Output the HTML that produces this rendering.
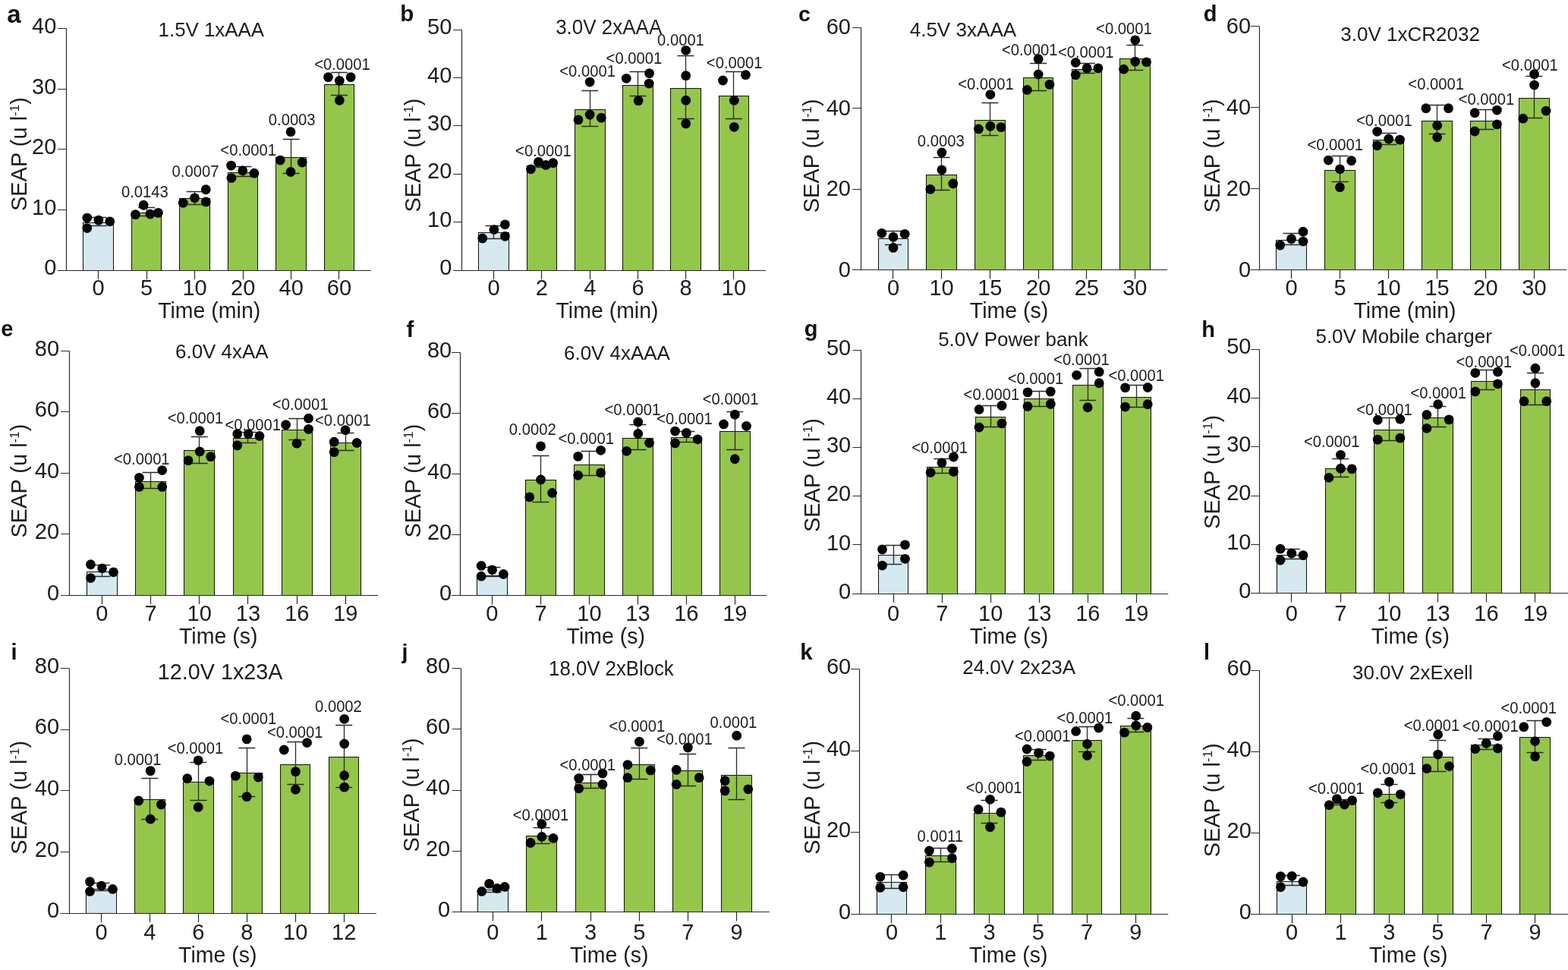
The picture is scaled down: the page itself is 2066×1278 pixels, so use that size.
<!DOCTYPE html>
<html><head><meta charset="utf-8"><title>SEAP bar charts</title>
<style>
html,body{margin:0;padding:0;background:#fff;}
body{width:2066px;height:1278px;overflow:hidden;}
svg{display:block;}
text{font-family:'Liberation Sans', Arial, Helvetica, sans-serif;fill:#1c1c1c;}
.tk{font-size:29px;}
.ti{}
.pv{font-size:21.5px;}
.xl{font-size:30px;}
.pl{font-weight:bold;fill:#111;}
</style></head>
<body>
<svg width="2066" height="1278" viewBox="0 0 2066 1278">
<rect width="2066" height="1278" fill="#fff"/>
<g id="pa">
<rect x="109.5" y="293.5" width="40" height="63" fill="#d6e9f0" stroke="#161616" stroke-width="1.05"/>
<rect x="173.5" y="280.5" width="39" height="76" fill="#94c64b" stroke="#161616" stroke-width="1.05"/>
<rect x="236.5" y="261.5" width="40" height="95" fill="#94c64b" stroke="#161616" stroke-width="1.05"/>
<rect x="300.5" y="227.5" width="39" height="129" fill="#94c64b" stroke="#161616" stroke-width="1.05"/>
<rect x="363.5" y="207.5" width="40" height="149" fill="#94c64b" stroke="#161616" stroke-width="1.05"/>
<rect x="427.5" y="111.5" width="39" height="245" fill="#94c64b" stroke="#161616" stroke-width="1.05"/>
<path d="M87.5 37.5V356.5M76.1 356.5H489.04" stroke="#2a2a2a" stroke-width="1.2" fill="none"/>
<path d="M76.1 356.5H87.4M76.1 276.5H87.4M76.1 196.5H87.4M76.1 117.5H87.4M76.1 37.5H87.4M129.5 356.09V367.89M193.5 356.09V367.89M256.5 356.09V367.89M320.5 356.09V367.89M383.5 356.09V367.89M446.5 356.09V367.89" stroke="#2a2a2a" stroke-width="1.2" fill="none"/>
<path d="M129.5 286.5V297.5M118.58 286.5H140.58M118.58 297.5H140.58M193.5 273.5V284.5M182.19 273.5H204.19M182.19 284.5H204.19M256.5 252.5V269.5M245.63 252.5H267.63M245.63 269.5H267.63M320.5 219.5V232.5M309.25 219.5H331.25M309.25 232.5H331.25M383.5 183.5V228.5M372.69 183.5H394.69M372.69 228.5H394.69M446.5 95.5V125.5M435.96 95.5H457.96M435.96 125.5H457.96" stroke="#2a2a2a" stroke-width="1.3" fill="none"/>
<circle cx="114.77" cy="287.09" r="6.4" fill="#050505"/>
<circle cx="129.92" cy="290.12" r="6.4" fill="#050505"/>
<circle cx="144.72" cy="291.81" r="6.4" fill="#050505"/>
<circle cx="114.77" cy="300.56" r="6.4" fill="#050505"/>
<circle cx="189.15" cy="270.27" r="6.4" fill="#050505"/>
<circle cx="178.38" cy="282.72" r="6.4" fill="#050505"/>
<circle cx="197.9" cy="282.05" r="6.4" fill="#050505"/>
<circle cx="208.34" cy="280.36" r="6.4" fill="#050505"/>
<circle cx="271.28" cy="249.73" r="6.4" fill="#050505"/>
<circle cx="256.47" cy="260.84" r="6.4" fill="#050505"/>
<circle cx="241.32" cy="267.24" r="6.4" fill="#050505"/>
<circle cx="271.28" cy="265.89" r="6.4" fill="#050505"/>
<circle cx="304.6" cy="218.1" r="6.4" fill="#050505"/>
<circle cx="319.74" cy="224.83" r="6.4" fill="#050505"/>
<circle cx="334.89" cy="228.19" r="6.4" fill="#050505"/>
<circle cx="304.93" cy="234.59" r="6.4" fill="#050505"/>
<circle cx="383.02" cy="173.67" r="6.4" fill="#050505"/>
<circle cx="369.22" cy="211.03" r="6.4" fill="#050505"/>
<circle cx="398.16" cy="214.06" r="6.4" fill="#050505"/>
<circle cx="383.02" cy="226.51" r="6.4" fill="#050505"/>
<circle cx="432.49" cy="101.64" r="6.4" fill="#050505"/>
<circle cx="462.11" cy="101.64" r="6.4" fill="#050505"/>
<circle cx="447.3" cy="106.36" r="6.4" fill="#050505"/>
<circle cx="447.3" cy="132.27" r="6.4" fill="#050505"/>
<text x="74.3" y="362.49" class="tk" text-anchor="end">0</text>
<text x="74.3" y="282.89" class="tk" text-anchor="end">10</text>
<text x="74.3" y="203.29" class="tk" text-anchor="end">20</text>
<text x="74.3" y="123.69" class="tk" text-anchor="end">30</text>
<text x="74.3" y="44.1" class="tk" text-anchor="end">40</text>
<text x="129.58" y="389.2" class="tk" text-anchor="middle">0</text>
<text x="193.19" y="389.2" class="tk" text-anchor="middle">5</text>
<text x="256.63" y="389.2" class="tk" text-anchor="middle">10</text>
<text x="320.25" y="389.2" class="tk" text-anchor="middle">20</text>
<text x="383.69" y="389.2" class="tk" text-anchor="middle">40</text>
<text x="446.96" y="389.2" class="tk" text-anchor="middle">60</text>
<text transform="translate(275.7 419.4) scale(0.95 1)" class="xl" text-anchor="middle">Time (min)</text>
<text transform="translate(208.56 47.6) scale(0.973 1)" font-size="26.6" class="ti">1.5V 1xAAA</text>
<text transform="translate(190.83 259.69) scale(0.94 1)" class="pv" text-anchor="middle">0.0143</text>
<text transform="translate(257.48 233.1) scale(0.94 1)" class="pv" text-anchor="middle">0.0007</text>
<text transform="translate(327.15 205.16) scale(0.94 1)" class="pv" text-anchor="middle">&lt;0.0001</text>
<text transform="translate(384.7 165.45) scale(0.94 1)" class="pv" text-anchor="middle">0.0003</text>
<text transform="translate(451 92.41) scale(0.94 1)" class="pv" text-anchor="middle">&lt;0.0001</text>
<text transform="translate(34.9 203.1) rotate(-90)" x="0" y="0" class="tk" text-anchor="middle">SEAP (u l<tspan font-size="17" dy="-10">-1</tspan><tspan dy="10">)</tspan></text>
<text x="9.2" y="29.5" class="pl" font-size="33">a</text>
</g>
<g id="pb">
<rect x="630.5" y="306.5" width="40" height="50" fill="#d6e9f0" stroke="#161616" stroke-width="1.05"/>
<rect x="694.5" y="218.5" width="39" height="138" fill="#94c64b" stroke="#161616" stroke-width="1.05"/>
<rect x="757.5" y="144.5" width="40" height="212" fill="#94c64b" stroke="#161616" stroke-width="1.05"/>
<rect x="820.5" y="112.5" width="40" height="244" fill="#94c64b" stroke="#161616" stroke-width="1.05"/>
<rect x="883.5" y="116.5" width="40" height="240" fill="#94c64b" stroke="#161616" stroke-width="1.05"/>
<rect x="947.5" y="126.5" width="39" height="230" fill="#94c64b" stroke="#161616" stroke-width="1.05"/>
<path d="M608.5 39.5V356.5M597.4 356.5H1009.04" stroke="#2a2a2a" stroke-width="1.2" fill="none"/>
<path d="M597.4 356.5H608.7M597.4 292.5H608.7M597.4 229.5H608.7M597.4 165.5H608.7M597.4 102.5H608.7M597.4 39.5H608.7M650.5 356.09V367.89M713.5 356.09V367.89M777.5 356.09V367.89M840.5 356.09V367.89M903.5 356.09V367.89M966.5 356.09V367.89" stroke="#2a2a2a" stroke-width="1.2" fill="none"/>
<path d="M650.5 297.5V314.5M639.59 297.5H661.59M639.59 314.5H661.59M713.5 215.5V220.5M702.86 215.5H724.86M702.86 220.5H724.86M777.5 119.5V166.5M766.31 119.5H788.31M766.31 166.5H788.31M840.5 94.5V126.5M829.58 94.5H851.58M829.58 126.5H851.58M903.5 73.5V156.5M892.52 73.5H914.52M892.52 156.5H914.52M966.5 94.5V156.5M955.96 94.5H977.96M955.96 156.5H977.96" stroke="#2a2a2a" stroke-width="1.3" fill="none"/>
<circle cx="635.78" cy="314.02" r="6.4" fill="#050505"/>
<circle cx="650.93" cy="302.58" r="6.4" fill="#050505"/>
<circle cx="665.4" cy="295.84" r="6.4" fill="#050505"/>
<circle cx="665.4" cy="311.33" r="6.4" fill="#050505"/>
<circle cx="699.39" cy="222.81" r="6.4" fill="#050505"/>
<circle cx="709.49" cy="213.39" r="6.4" fill="#050505"/>
<circle cx="719.25" cy="217.42" r="6.4" fill="#050505"/>
<circle cx="728.67" cy="214.73" r="6.4" fill="#050505"/>
<circle cx="777.14" cy="108.04" r="6.4" fill="#050505"/>
<circle cx="777.14" cy="151.12" r="6.4" fill="#050505"/>
<circle cx="761.99" cy="157.85" r="6.4" fill="#050505"/>
<circle cx="792.28" cy="155.16" r="6.4" fill="#050505"/>
<circle cx="825.27" cy="103.33" r="6.4" fill="#050505"/>
<circle cx="855.56" cy="96.6" r="6.4" fill="#050505"/>
<circle cx="855.22" cy="110.06" r="6.4" fill="#050505"/>
<circle cx="841.09" cy="132.61" r="6.4" fill="#050505"/>
<circle cx="903.69" cy="66.3" r="6.4" fill="#050505"/>
<circle cx="903.69" cy="99.62" r="6.4" fill="#050505"/>
<circle cx="903.69" cy="132.27" r="6.4" fill="#050505"/>
<circle cx="903.69" cy="162.9" r="6.4" fill="#050505"/>
<circle cx="952.49" cy="106.02" r="6.4" fill="#050505"/>
<circle cx="982.45" cy="98.61" r="6.4" fill="#050505"/>
<circle cx="967.3" cy="132.27" r="6.4" fill="#050505"/>
<circle cx="967.3" cy="167.28" r="6.4" fill="#050505"/>
<text x="595.3" y="362.29" class="tk" text-anchor="end">0</text>
<text x="595.3" y="298.88" class="tk" text-anchor="end">10</text>
<text x="595.3" y="235.47" class="tk" text-anchor="end">20</text>
<text x="595.3" y="172.06" class="tk" text-anchor="end">30</text>
<text x="595.3" y="108.65" class="tk" text-anchor="end">40</text>
<text x="595.3" y="45.24" class="tk" text-anchor="end">50</text>
<text x="650.59" y="389.2" class="tk" text-anchor="middle">0</text>
<text x="713.86" y="389.2" class="tk" text-anchor="middle">2</text>
<text x="777.31" y="389.2" class="tk" text-anchor="middle">4</text>
<text x="840.58" y="389.2" class="tk" text-anchor="middle">6</text>
<text x="903.52" y="389.2" class="tk" text-anchor="middle">8</text>
<text x="966.96" y="389.2" class="tk" text-anchor="middle">10</text>
<text transform="translate(800 419.4) scale(0.95 1)" class="xl" text-anchor="middle">Time (min)</text>
<text transform="translate(732.16 44.9) scale(0.966 1)" font-size="26.9" class="ti">3.0V 2xAAA</text>
<text transform="translate(715.88 206.17) scale(0.94 1)" class="pv" text-anchor="middle">&lt;0.0001</text>
<text transform="translate(774.11 100.83) scale(0.94 1)" class="pv" text-anchor="middle">&lt;0.0001</text>
<text transform="translate(835.37 84) scale(0.94 1)" class="pv" text-anchor="middle">&lt;0.0001</text>
<text transform="translate(896.96 60.44) scale(0.94 1)" class="pv" text-anchor="middle">0.0001</text>
<text transform="translate(967.64 89.72) scale(0.94 1)" class="pv" text-anchor="middle">&lt;0.0001</text>
<text transform="translate(553.7 204.5) rotate(-90)" x="0" y="0" class="tk" text-anchor="middle">SEAP (u l<tspan font-size="17" dy="-10">-1</tspan><tspan dy="10">)</tspan></text>
<text x="527.2" y="28.4" class="pl" font-size="29.5">b</text>
</g>
<g id="pc">
<rect x="1157.5" y="314.5" width="39" height="41" fill="#d6e9f0" stroke="#161616" stroke-width="1.05"/>
<rect x="1220.5" y="230.5" width="40" height="125" fill="#94c64b" stroke="#161616" stroke-width="1.05"/>
<rect x="1284.5" y="158.5" width="40" height="197" fill="#94c64b" stroke="#161616" stroke-width="1.05"/>
<rect x="1348.5" y="102.5" width="39" height="253" fill="#94c64b" stroke="#161616" stroke-width="1.05"/>
<rect x="1412.5" y="91.5" width="39" height="264" fill="#94c64b" stroke="#161616" stroke-width="1.05"/>
<rect x="1475.5" y="77.5" width="40" height="278" fill="#94c64b" stroke="#161616" stroke-width="1.05"/>
<path d="M1134.5 36.5V355.5M1123.3 355.5H1538.12" stroke="#2a2a2a" stroke-width="1.2" fill="none"/>
<path d="M1123.3 355.5H1134.6M1123.3 249.5H1134.6M1123.3 142.5H1134.6M1123.3 36.5H1134.6M1176.5 355.75V367.55M1240.5 355.75V367.55M1304.5 355.75V367.55M1368.5 355.75V367.55M1431.5 355.75V367.55M1495.5 355.75V367.55" stroke="#2a2a2a" stroke-width="1.2" fill="none"/>
<path d="M1176.5 304.5V322.5M1165.98 304.5H1187.98M1165.98 322.5H1187.98M1240.5 207.5V250.5M1229.6 207.5H1251.6M1229.6 250.5H1251.6M1304.5 135.5V178.5M1293.38 135.5H1315.38M1293.38 178.5H1315.38M1368.5 83.5V119.5M1357.16 83.5H1379.16M1357.16 119.5H1379.16M1431.5 83.5V96.5M1420.77 83.5H1442.77M1420.77 96.5H1442.77M1495.5 59.5V92.5M1484.38 59.5H1506.38M1484.38 92.5H1506.38" stroke="#2a2a2a" stroke-width="1.3" fill="none"/>
<circle cx="1161.84" cy="307.29" r="6.4" fill="#050505"/>
<circle cx="1176.98" cy="312.34" r="6.4" fill="#050505"/>
<circle cx="1192.13" cy="308.3" r="6.4" fill="#050505"/>
<circle cx="1176.98" cy="326.47" r="6.4" fill="#050505"/>
<circle cx="1240.93" cy="200.93" r="6.4" fill="#050505"/>
<circle cx="1240.93" cy="223.82" r="6.4" fill="#050505"/>
<circle cx="1255.74" cy="241.99" r="6.4" fill="#050505"/>
<circle cx="1225.79" cy="249.4" r="6.4" fill="#050505"/>
<circle cx="1304.88" cy="124.53" r="6.4" fill="#050505"/>
<circle cx="1289.4" cy="169.97" r="6.4" fill="#050505"/>
<circle cx="1304.88" cy="166.27" r="6.4" fill="#050505"/>
<circle cx="1319.02" cy="167.61" r="6.4" fill="#050505"/>
<circle cx="1368.16" cy="77.75" r="6.4" fill="#050505"/>
<circle cx="1368.16" cy="97.94" r="6.4" fill="#050505"/>
<circle cx="1353.35" cy="118.47" r="6.4" fill="#050505"/>
<circle cx="1382.96" cy="111.4" r="6.4" fill="#050505"/>
<circle cx="1417.29" cy="82.46" r="6.4" fill="#050505"/>
<circle cx="1432.1" cy="89.86" r="6.4" fill="#050505"/>
<circle cx="1446.91" cy="89.86" r="6.4" fill="#050505"/>
<circle cx="1417.29" cy="98.61" r="6.4" fill="#050505"/>
<circle cx="1495.72" cy="52.84" r="6.4" fill="#050505"/>
<circle cx="1495.72" cy="81.11" r="6.4" fill="#050505"/>
<circle cx="1510.52" cy="81.79" r="6.4" fill="#050505"/>
<circle cx="1480.57" cy="91.21" r="6.4" fill="#050505"/>
<text x="1120.9" y="364.95" class="tk" text-anchor="end">0</text>
<text x="1120.9" y="258.37" class="tk" text-anchor="end">20</text>
<text x="1120.9" y="151.79" class="tk" text-anchor="end">40</text>
<text x="1120.9" y="45.21" class="tk" text-anchor="end">60</text>
<text x="1176.98" y="389.2" class="tk" text-anchor="middle">0</text>
<text x="1240.6" y="389.2" class="tk" text-anchor="middle">10</text>
<text x="1304.38" y="389.2" class="tk" text-anchor="middle">15</text>
<text x="1368.16" y="389.2" class="tk" text-anchor="middle">20</text>
<text x="1431.77" y="389.2" class="tk" text-anchor="middle">25</text>
<text x="1495.38" y="389.2" class="tk" text-anchor="middle">30</text>
<text transform="translate(1329.5 419.4) scale(0.95 1)" class="xl" text-anchor="middle">Time (s)</text>
<text transform="translate(1198.65 48) scale(0.991 1)" font-size="26.3" class="ti">4.5V 3xAAA</text>
<text transform="translate(1239.75 193.38) scale(0.94 1)" class="pv" text-anchor="middle">0.0003</text>
<text transform="translate(1298.99 118.33) scale(0.94 1)" class="pv" text-anchor="middle">&lt;0.0001</text>
<text transform="translate(1356.71 72.89) scale(0.94 1)" class="pv" text-anchor="middle">&lt;0.0001</text>
<text transform="translate(1430.76 75.58) scale(0.94 1)" class="pv" text-anchor="middle">&lt;0.0001</text>
<text transform="translate(1480.91 45.29) scale(0.94 1)" class="pv" text-anchor="middle">&lt;0.0001</text>
<text transform="translate(1078.7 205.3) rotate(-90)" x="0" y="0" class="tk" text-anchor="middle">SEAP (u l<tspan font-size="17" dy="-10">-1</tspan><tspan dy="10">)</tspan></text>
<text x="1052" y="28.4" class="pl" font-size="28.5">c</text>
</g>
<g id="pd">
<rect x="1681.5" y="316.5" width="40" height="39" fill="#d6e9f0" stroke="#161616" stroke-width="1.05"/>
<rect x="1745.5" y="224.5" width="40" height="131" fill="#94c64b" stroke="#161616" stroke-width="1.05"/>
<rect x="1809.5" y="184.5" width="40" height="171" fill="#94c64b" stroke="#161616" stroke-width="1.05"/>
<rect x="1873.5" y="159.5" width="40" height="196" fill="#94c64b" stroke="#161616" stroke-width="1.05"/>
<rect x="1937.5" y="159.5" width="40" height="196" fill="#94c64b" stroke="#161616" stroke-width="1.05"/>
<rect x="2001.5" y="129.5" width="40" height="226" fill="#94c64b" stroke="#161616" stroke-width="1.05"/>
<path d="M1659.5 34.5V355.5M1647.7 355.5H2064.32" stroke="#2a2a2a" stroke-width="1.2" fill="none"/>
<path d="M1647.7 355.5H1659M1647.7 248.5H1659M1647.7 141.5H1659M1647.7 34.5H1659M1701.5 355.42V367.22M1765.5 355.42V367.22M1829.5 355.42V367.22M1893.5 355.42V367.22M1957.5 355.42V367.22M2021.5 355.42V367.22" stroke="#2a2a2a" stroke-width="1.2" fill="none"/>
<path d="M1701.5 307.5V322.5M1690.5 307.5H1712.5M1690.5 322.5H1712.5M1765.5 205.5V239.5M1754.61 205.5H1776.61M1754.61 239.5H1776.61M1829.5 175.5V190.5M1818.39 175.5H1840.39M1818.39 190.5H1840.39M1893.5 138.5V176.5M1882.51 138.5H1904.51M1882.51 176.5H1904.51M1957.5 144.5V170.5M1946.46 144.5H1968.46M1946.46 170.5H1968.46M2021.5 100.5V155.5M2010.4 100.5H2032.4M2010.4 155.5H2032.4" stroke="#2a2a2a" stroke-width="1.3" fill="none"/>
<circle cx="1686.69" cy="323.11" r="6.4" fill="#050505"/>
<circle cx="1701.5" cy="314.69" r="6.4" fill="#050505"/>
<circle cx="1716.98" cy="305.27" r="6.4" fill="#050505"/>
<circle cx="1716.98" cy="318.06" r="6.4" fill="#050505"/>
<circle cx="1750.3" cy="211.03" r="6.4" fill="#050505"/>
<circle cx="1780.59" cy="211.7" r="6.4" fill="#050505"/>
<circle cx="1765.44" cy="222.81" r="6.4" fill="#050505"/>
<circle cx="1765.44" cy="246.71" r="6.4" fill="#050505"/>
<circle cx="1814.58" cy="173.33" r="6.4" fill="#050505"/>
<circle cx="1829.73" cy="183.09" r="6.4" fill="#050505"/>
<circle cx="1844.54" cy="184.1" r="6.4" fill="#050505"/>
<circle cx="1814.58" cy="191.84" r="6.4" fill="#050505"/>
<circle cx="1878.87" cy="142.71" r="6.4" fill="#050505"/>
<circle cx="1908.49" cy="142.71" r="6.4" fill="#050505"/>
<circle cx="1893.68" cy="165.26" r="6.4" fill="#050505"/>
<circle cx="1893.68" cy="180.74" r="6.4" fill="#050505"/>
<circle cx="1943.15" cy="148.76" r="6.4" fill="#050505"/>
<circle cx="1972.43" cy="145.06" r="6.4" fill="#050505"/>
<circle cx="1972.43" cy="163.91" r="6.4" fill="#050505"/>
<circle cx="1943.15" cy="173" r="6.4" fill="#050505"/>
<circle cx="2021.57" cy="97.61" r="6.4" fill="#050505"/>
<circle cx="2021.57" cy="112.08" r="6.4" fill="#050505"/>
<circle cx="2037.06" cy="146.07" r="6.4" fill="#050505"/>
<circle cx="2006.76" cy="156.17" r="6.4" fill="#050505"/>
<text x="1648.1" y="364.82" class="tk" text-anchor="end">0</text>
<text x="1648.1" y="257.9" class="tk" text-anchor="end">20</text>
<text x="1648.1" y="150.98" class="tk" text-anchor="end">40</text>
<text x="1648.1" y="44.07" class="tk" text-anchor="end">60</text>
<text x="1701.5" y="389.2" class="tk" text-anchor="middle">0</text>
<text x="1765.61" y="389.2" class="tk" text-anchor="middle">5</text>
<text x="1829.39" y="389.2" class="tk" text-anchor="middle">10</text>
<text x="1893.51" y="389.2" class="tk" text-anchor="middle">15</text>
<text x="1957.46" y="389.2" class="tk" text-anchor="middle">20</text>
<text x="2021.4" y="389.2" class="tk" text-anchor="middle">30</text>
<text transform="translate(1851 419.4) scale(0.95 1)" class="xl" text-anchor="middle">Time (min)</text>
<text transform="translate(1766.26 53.5) scale(0.990 1)" font-size="26.3" class="ti">3.0V 1xCR2032</text>
<text transform="translate(1759.22 198.43) scale(0.94 1)" class="pv" text-anchor="middle">&lt;0.0001</text>
<text transform="translate(1823.84 165.78) scale(0.94 1)" class="pv" text-anchor="middle">&lt;0.0001</text>
<text transform="translate(1892.16 117.65) scale(0.94 1)" class="pv" text-anchor="middle">&lt;0.0001</text>
<text transform="translate(1958.47 137.85) scale(0.94 1)" class="pv" text-anchor="middle">&lt;0.0001</text>
<text transform="translate(2015.85 93.08) scale(0.94 1)" class="pv" text-anchor="middle">&lt;0.0001</text>
<text transform="translate(1606.6 205.3) rotate(-90)" x="0" y="0" class="tk" text-anchor="middle">SEAP (u l<tspan font-size="17" dy="-10">-1</tspan><tspan dy="10">)</tspan></text>
<text x="1585.8" y="28.4" class="pl" font-size="29">d</text>
</g>
<g id="pe">
<rect x="114.5" y="753.5" width="40" height="31" fill="#d6e9f0" stroke="#161616" stroke-width="1.05"/>
<rect x="178.5" y="634.5" width="40" height="150" fill="#94c64b" stroke="#161616" stroke-width="1.05"/>
<rect x="242.5" y="593.5" width="40" height="191" fill="#94c64b" stroke="#161616" stroke-width="1.05"/>
<rect x="307.5" y="577.5" width="39" height="207" fill="#94c64b" stroke="#161616" stroke-width="1.05"/>
<rect x="371.5" y="566.5" width="40" height="218" fill="#94c64b" stroke="#161616" stroke-width="1.05"/>
<rect x="435.5" y="583.5" width="40" height="201" fill="#94c64b" stroke="#161616" stroke-width="1.05"/>
<path d="M91.5 462.5V784.5M80.2 784.5H498.12" stroke="#2a2a2a" stroke-width="1.2" fill="none"/>
<path d="M80.2 784.5H91.5M80.2 703.5H91.5M80.2 623.5H91.5M80.2 542.5H91.5M80.2 462.5H91.5M134.5 784.12V795.92M198.5 784.12V795.92M262.5 784.12V795.92M326.5 784.12V795.92M391.5 784.12V795.92M455.5 784.12V795.92" stroke="#2a2a2a" stroke-width="1.2" fill="none"/>
<path d="M134.5 744.5V759.5M123.29 744.5H145.29M123.29 759.5H145.29M198.5 622.5V643.5M187.58 622.5H209.58M187.58 643.5H209.58M262.5 575.5V610.5M251.69 575.5H273.69M251.69 610.5H273.69M326.5 569.5V583.5M315.98 569.5H337.98M315.98 583.5H337.98M391.5 551.5V579.5M380.26 551.5H402.26M380.26 579.5H402.26M455.5 570.5V593.5M444.38 570.5H466.38M444.38 593.5H466.38" stroke="#2a2a2a" stroke-width="1.3" fill="none"/>
<circle cx="119.48" cy="743.73" r="6.4" fill="#050505"/>
<circle cx="134.63" cy="748.78" r="6.4" fill="#050505"/>
<circle cx="149.44" cy="753.83" r="6.4" fill="#050505"/>
<circle cx="119.48" cy="761.57" r="6.4" fill="#050505"/>
<circle cx="183.43" cy="629.3" r="6.4" fill="#050505"/>
<circle cx="213.72" cy="619.54" r="6.4" fill="#050505"/>
<circle cx="183.43" cy="641.41" r="6.4" fill="#050505"/>
<circle cx="213.72" cy="641.41" r="6.4" fill="#050505"/>
<circle cx="263.2" cy="567.71" r="6.4" fill="#050505"/>
<circle cx="263.2" cy="594.97" r="6.4" fill="#050505"/>
<circle cx="248.05" cy="606.75" r="6.4" fill="#050505"/>
<circle cx="277.67" cy="601.7" r="6.4" fill="#050505"/>
<circle cx="312.67" cy="571.74" r="6.4" fill="#050505"/>
<circle cx="327.15" cy="571.74" r="6.4" fill="#050505"/>
<circle cx="341.95" cy="574.44" r="6.4" fill="#050505"/>
<circle cx="312.67" cy="586.89" r="6.4" fill="#050505"/>
<circle cx="376.62" cy="559.63" r="6.4" fill="#050505"/>
<circle cx="406.58" cy="551.21" r="6.4" fill="#050505"/>
<circle cx="406.58" cy="565.35" r="6.4" fill="#050505"/>
<circle cx="391.09" cy="584.2" r="6.4" fill="#050505"/>
<circle cx="455.04" cy="566.7" r="6.4" fill="#050505"/>
<circle cx="440.23" cy="582.18" r="6.4" fill="#050505"/>
<circle cx="470.19" cy="583.52" r="6.4" fill="#050505"/>
<circle cx="440.23" cy="595.64" r="6.4" fill="#050505"/>
<text x="78.1" y="790.82" class="tk" text-anchor="end">0</text>
<text x="78.1" y="710.3" class="tk" text-anchor="end">20</text>
<text x="78.1" y="629.77" class="tk" text-anchor="end">40</text>
<text x="78.1" y="549.25" class="tk" text-anchor="end">60</text>
<text x="78.1" y="468.72" class="tk" text-anchor="end">80</text>
<text x="134.29" y="817.8" class="tk" text-anchor="middle">0</text>
<text x="198.58" y="817.8" class="tk" text-anchor="middle">7</text>
<text x="262.69" y="817.8" class="tk" text-anchor="middle">10</text>
<text x="326.98" y="817.8" class="tk" text-anchor="middle">13</text>
<text x="391.26" y="817.8" class="tk" text-anchor="middle">16</text>
<text x="455.38" y="817.8" class="tk" text-anchor="middle">19</text>
<text transform="translate(287.7 848.2) scale(0.95 1)" class="xl" text-anchor="middle">Time (s)</text>
<text transform="translate(231 471.9) scale(0.994 1)" font-size="26.1" class="ti">6.0V 4xAA</text>
<text transform="translate(186.8 612.32) scale(0.94 1)" class="pv" text-anchor="middle">&lt;0.0001</text>
<text transform="translate(257.48 557.8) scale(0.94 1)" class="pv" text-anchor="middle">&lt;0.0001</text>
<text transform="translate(333.2 566.89) scale(0.94 1)" class="pv" text-anchor="middle">&lt;0.0001</text>
<text transform="translate(395.64 539.96) scale(0.94 1)" class="pv" text-anchor="middle">&lt;0.0001</text>
<text transform="translate(451.84 561.17) scale(0.94 1)" class="pv" text-anchor="middle">&lt;0.0001</text>
<text transform="translate(35.3 633.6) rotate(-90)" x="0" y="0" class="tk" text-anchor="middle">SEAP (u l<tspan font-size="17" dy="-10">-1</tspan><tspan dy="10">)</tspan></text>
<text x="1.3" y="443.4" class="pl" font-size="29">e</text>
</g>
<g id="pf">
<rect x="628.5" y="758.5" width="40" height="26" fill="#d6e9f0" stroke="#161616" stroke-width="1.05"/>
<rect x="692.5" y="632.5" width="40" height="152" fill="#94c64b" stroke="#161616" stroke-width="1.05"/>
<rect x="756.5" y="612.5" width="40" height="172" fill="#94c64b" stroke="#161616" stroke-width="1.05"/>
<rect x="820.5" y="577.5" width="40" height="207" fill="#94c64b" stroke="#161616" stroke-width="1.05"/>
<rect x="884.5" y="576.5" width="40" height="208" fill="#94c64b" stroke="#161616" stroke-width="1.05"/>
<rect x="948.5" y="568.5" width="40" height="216" fill="#94c64b" stroke="#161616" stroke-width="1.05"/>
<path d="M606.5 464.5V784.5M595.1 784.5H1010.38" stroke="#2a2a2a" stroke-width="1.2" fill="none"/>
<path d="M595.1 784.5H606.4M595.1 704.5H606.4M595.1 624.5H606.4M595.1 544.5H606.4M595.1 464.5H606.4M648.5 784.79V796.59M712.5 784.79V796.59M776.5 784.79V796.59M840.5 784.79V796.59M904.5 784.79V796.59M968.5 784.79V796.59" stroke="#2a2a2a" stroke-width="1.2" fill="none"/>
<path d="M648.5 747.5V759.5M637.4 747.5H659.4M637.4 759.5H659.4M712.5 600.5V661.5M701.52 600.5H723.52M701.52 661.5H723.52M776.5 594.5V626.5M765.47 594.5H787.47M765.47 626.5H787.47M840.5 559.5V592.5M829.41 559.5H851.41M829.41 592.5H851.41M904.5 568.5V582.5M893.36 568.5H915.36M893.36 582.5H915.36M968.5 542.5V592.5M957.31 542.5H979.31M957.31 592.5H979.31" stroke="#2a2a2a" stroke-width="1.3" fill="none"/>
<circle cx="634.1" cy="745.41" r="6.4" fill="#050505"/>
<circle cx="648.57" cy="750.8" r="6.4" fill="#050505"/>
<circle cx="663.38" cy="756.52" r="6.4" fill="#050505"/>
<circle cx="634.1" cy="759.21" r="6.4" fill="#050505"/>
<circle cx="712.52" cy="587.9" r="6.4" fill="#050505"/>
<circle cx="712.52" cy="631.99" r="6.4" fill="#050505"/>
<circle cx="727.66" cy="649.49" r="6.4" fill="#050505"/>
<circle cx="697.71" cy="654.88" r="6.4" fill="#050505"/>
<circle cx="791.61" cy="593.28" r="6.4" fill="#050505"/>
<circle cx="761.66" cy="601.36" r="6.4" fill="#050505"/>
<circle cx="761.66" cy="626.27" r="6.4" fill="#050505"/>
<circle cx="791.61" cy="622.9" r="6.4" fill="#050505"/>
<circle cx="840.75" cy="555.93" r="6.4" fill="#050505"/>
<circle cx="840.75" cy="571.41" r="6.4" fill="#050505"/>
<circle cx="855.56" cy="583.52" r="6.4" fill="#050505"/>
<circle cx="825.61" cy="594.29" r="6.4" fill="#050505"/>
<circle cx="889.55" cy="568.04" r="6.4" fill="#050505"/>
<circle cx="904.36" cy="570.4" r="6.4" fill="#050505"/>
<circle cx="919.17" cy="578.81" r="6.4" fill="#050505"/>
<circle cx="889.55" cy="583.86" r="6.4" fill="#050505"/>
<circle cx="968.31" cy="546.17" r="6.4" fill="#050505"/>
<circle cx="953.5" cy="558.95" r="6.4" fill="#050505"/>
<circle cx="983.46" cy="561.31" r="6.4" fill="#050505"/>
<circle cx="968.31" cy="604.73" r="6.4" fill="#050505"/>
<text x="595.2" y="791.19" class="tk" text-anchor="end">0</text>
<text x="595.2" y="711.09" class="tk" text-anchor="end">20</text>
<text x="595.2" y="630.99" class="tk" text-anchor="end">40</text>
<text x="595.2" y="550.88" class="tk" text-anchor="end">60</text>
<text x="595.2" y="470.78" class="tk" text-anchor="end">80</text>
<text x="648.4" y="817.8" class="tk" text-anchor="middle">0</text>
<text x="712.52" y="817.8" class="tk" text-anchor="middle">7</text>
<text x="776.47" y="817.8" class="tk" text-anchor="middle">10</text>
<text x="840.41" y="817.8" class="tk" text-anchor="middle">13</text>
<text x="904.36" y="817.8" class="tk" text-anchor="middle">16</text>
<text x="968.31" y="817.8" class="tk" text-anchor="middle">19</text>
<text transform="translate(798.3 848.2) scale(0.95 1)" class="xl" text-anchor="middle">Time (s)</text>
<text transform="translate(743 474.1) scale(0.972 1)" font-size="26.7" class="ti">6.0V 4xAAA</text>
<text transform="translate(701.75 572.94) scale(0.94 1)" class="pv" text-anchor="middle">0.0002</text>
<text transform="translate(772.26 584.72) scale(0.94 1)" class="pv" text-anchor="middle">&lt;0.0001</text>
<text transform="translate(833.35 547.03) scale(0.94 1)" class="pv" text-anchor="middle">&lt;0.0001</text>
<text transform="translate(902.01 559.48) scale(0.94 1)" class="pv" text-anchor="middle">&lt;0.0001</text>
<text transform="translate(962.59 533.23) scale(0.94 1)" class="pv" text-anchor="middle">&lt;0.0001</text>
<text transform="translate(553.7 633.6) rotate(-90)" x="0" y="0" class="tk" text-anchor="middle">SEAP (u l<tspan font-size="17" dy="-10">-1</tspan><tspan dy="10">)</tspan></text>
<text x="535.6" y="443.6" class="pl" font-size="29.5">f</text>
</g>
<g id="pg">
<rect x="1157.5" y="731.5" width="39" height="51" fill="#d6e9f0" stroke="#161616" stroke-width="1.05"/>
<rect x="1221.5" y="615.5" width="40" height="167" fill="#94c64b" stroke="#161616" stroke-width="1.05"/>
<rect x="1285.5" y="549.5" width="39" height="233" fill="#94c64b" stroke="#161616" stroke-width="1.05"/>
<rect x="1349.5" y="525.5" width="39" height="257" fill="#94c64b" stroke="#161616" stroke-width="1.05"/>
<rect x="1413.5" y="507.5" width="40" height="275" fill="#94c64b" stroke="#161616" stroke-width="1.05"/>
<rect x="1477.5" y="523.5" width="39" height="259" fill="#94c64b" stroke="#161616" stroke-width="1.05"/>
<path d="M1134.5 461.5V782.5M1123.4 782.5H1539.13" stroke="#2a2a2a" stroke-width="1.2" fill="none"/>
<path d="M1123.4 782.5H1134.7M1123.4 717.5H1134.7M1123.4 653.5H1134.7M1123.4 589.5H1134.7M1123.4 525.5H1134.7M1123.4 461.5H1134.7M1177.5 782.1V793.9M1241.5 782.1V793.9M1305.5 782.1V793.9M1369.5 782.1V793.9M1433.5 782.1V793.9M1497.5 782.1V793.9" stroke="#2a2a2a" stroke-width="1.2" fill="none"/>
<path d="M1177.5 718.5V743.5M1166.15 718.5H1188.15M1166.15 743.5H1188.15M1241.5 604.5V623.5M1230.27 604.5H1252.27M1230.27 623.5H1252.27M1305.5 534.5V562.5M1294.22 534.5H1316.22M1294.22 562.5H1316.22M1369.5 515.5V535.5M1358.17 515.5H1380.17M1358.17 535.5H1380.17M1433.5 485.5V527.5M1422.28 485.5H1444.28M1422.28 527.5H1444.28M1497.5 507.5V536.5M1486.23 507.5H1508.23M1486.23 536.5H1508.23" stroke="#2a2a2a" stroke-width="1.3" fill="none"/>
<circle cx="1192.47" cy="717.82" r="6.4" fill="#050505"/>
<circle cx="1162.51" cy="723.87" r="6.4" fill="#050505"/>
<circle cx="1192.47" cy="736.33" r="6.4" fill="#050505"/>
<circle cx="1162.51" cy="745.08" r="6.4" fill="#050505"/>
<circle cx="1256.41" cy="602.04" r="6.4" fill="#050505"/>
<circle cx="1240.93" cy="609.78" r="6.4" fill="#050505"/>
<circle cx="1226.12" cy="622.57" r="6.4" fill="#050505"/>
<circle cx="1256.41" cy="621.56" r="6.4" fill="#050505"/>
<circle cx="1320.03" cy="534.39" r="6.4" fill="#050505"/>
<circle cx="1290.07" cy="539.43" r="6.4" fill="#050505"/>
<circle cx="1290.07" cy="562.99" r="6.4" fill="#050505"/>
<circle cx="1320.03" cy="557.94" r="6.4" fill="#050505"/>
<circle cx="1354.02" cy="516.88" r="6.4" fill="#050505"/>
<circle cx="1384.31" cy="515.87" r="6.4" fill="#050505"/>
<circle cx="1354.02" cy="535.39" r="6.4" fill="#050505"/>
<circle cx="1384.31" cy="532.37" r="6.4" fill="#050505"/>
<circle cx="1448.26" cy="489.96" r="6.4" fill="#050505"/>
<circle cx="1418.64" cy="494.33" r="6.4" fill="#050505"/>
<circle cx="1448.26" cy="504.77" r="6.4" fill="#050505"/>
<circle cx="1433.11" cy="536.74" r="6.4" fill="#050505"/>
<circle cx="1482.59" cy="510.83" r="6.4" fill="#050505"/>
<circle cx="1512.21" cy="510.49" r="6.4" fill="#050505"/>
<circle cx="1482.59" cy="536.07" r="6.4" fill="#050505"/>
<circle cx="1512.21" cy="532.7" r="6.4" fill="#050505"/>
<text x="1121.2" y="788.8" class="tk" text-anchor="end">0</text>
<text x="1121.2" y="724.58" class="tk" text-anchor="end">10</text>
<text x="1121.2" y="660.37" class="tk" text-anchor="end">20</text>
<text x="1121.2" y="596.15" class="tk" text-anchor="end">30</text>
<text x="1121.2" y="531.93" class="tk" text-anchor="end">40</text>
<text x="1121.2" y="467.71" class="tk" text-anchor="end">50</text>
<text x="1177.15" y="817.8" class="tk" text-anchor="middle">0</text>
<text x="1241.27" y="817.8" class="tk" text-anchor="middle">7</text>
<text x="1305.22" y="817.8" class="tk" text-anchor="middle">10</text>
<text x="1369.17" y="817.8" class="tk" text-anchor="middle">13</text>
<text x="1433.28" y="817.8" class="tk" text-anchor="middle">16</text>
<text x="1497.23" y="817.8" class="tk" text-anchor="middle">19</text>
<text transform="translate(1329.5 848.2) scale(0.95 1)" class="xl" text-anchor="middle">Time (s)</text>
<text transform="translate(1236.16 456.1) scale(0.998 1)" font-size="26.0" class="ti">5.0V Power bank</text>
<text transform="translate(1238.07 596.5) scale(0.94 1)" class="pv" text-anchor="middle">&lt;0.0001</text>
<text transform="translate(1306.39 526.5) scale(0.94 1)" class="pv" text-anchor="middle">&lt;0.0001</text>
<text transform="translate(1364.45 505.63) scale(0.94 1)" class="pv" text-anchor="middle">&lt;0.0001</text>
<text transform="translate(1424.87 481.4) scale(0.94 1)" class="pv" text-anchor="middle">&lt;0.0001</text>
<text transform="translate(1497.23 502.27) scale(0.94 1)" class="pv" text-anchor="middle">&lt;0.0001</text>
<text transform="translate(1079.7 626.1) rotate(-90)" x="0" y="0" class="tk" text-anchor="middle">SEAP (u l<tspan font-size="17" dy="-10">-1</tspan><tspan dy="10">)</tspan></text>
<text x="1059.8" y="443.4" class="pl" font-size="29">g</text>
</g>
<g id="ph">
<rect x="1682.5" y="731.5" width="39" height="50" fill="#d6e9f0" stroke="#161616" stroke-width="1.05"/>
<rect x="1746.5" y="617.5" width="40" height="164" fill="#94c64b" stroke="#161616" stroke-width="1.05"/>
<rect x="1810.5" y="566.5" width="39" height="215" fill="#94c64b" stroke="#161616" stroke-width="1.05"/>
<rect x="1874.5" y="550.5" width="40" height="231" fill="#94c64b" stroke="#161616" stroke-width="1.05"/>
<rect x="1938.5" y="502.5" width="40" height="279" fill="#94c64b" stroke="#161616" stroke-width="1.05"/>
<rect x="2003.5" y="513.5" width="39" height="268" fill="#94c64b" stroke="#161616" stroke-width="1.05"/>
<path d="M1659.5 460.5V781.5M1648.2 781.5H2066" stroke="#2a2a2a" stroke-width="1.2" fill="none"/>
<path d="M1648.2 781.5H1659.5M1648.2 717.5H1659.5M1648.2 653.5H1659.5M1648.2 588.5H1659.5M1648.2 524.5H1659.5M1648.2 460.5H1659.5M1701.5 781.76V793.56M1766.5 781.76V793.56M1830.5 781.76V793.56M1894.5 781.76V793.56M1958.5 781.76V793.56M2022.5 781.76V793.56" stroke="#2a2a2a" stroke-width="1.2" fill="none"/>
<path d="M1701.5 723.5V736.5M1690.83 723.5H1712.83M1690.83 736.5H1712.83M1766.5 604.5V628.5M1755.28 604.5H1777.28M1755.28 628.5H1777.28M1830.5 550.5V580.5M1819.23 550.5H1841.23M1819.23 580.5H1841.23M1894.5 535.5V562.5M1883.52 535.5H1905.52M1883.52 562.5H1905.52M1958.5 487.5V513.5M1947.47 487.5H1969.47M1947.47 513.5H1969.47M2022.5 491.5V533.5M2011.92 491.5H2033.92M2011.92 533.5H2033.92" stroke="#2a2a2a" stroke-width="1.3" fill="none"/>
<circle cx="1687.02" cy="723.2" r="6.4" fill="#050505"/>
<circle cx="1701.83" cy="728.92" r="6.4" fill="#050505"/>
<circle cx="1716.98" cy="731.61" r="6.4" fill="#050505"/>
<circle cx="1687.02" cy="738.01" r="6.4" fill="#050505"/>
<circle cx="1766.45" cy="599.34" r="6.4" fill="#050505"/>
<circle cx="1766.45" cy="617.18" r="6.4" fill="#050505"/>
<circle cx="1781.26" cy="617.85" r="6.4" fill="#050505"/>
<circle cx="1750.97" cy="629.3" r="6.4" fill="#050505"/>
<circle cx="1815.26" cy="553.23" r="6.4" fill="#050505"/>
<circle cx="1844.87" cy="552.22" r="6.4" fill="#050505"/>
<circle cx="1815.26" cy="579.15" r="6.4" fill="#050505"/>
<circle cx="1844.87" cy="577.13" r="6.4" fill="#050505"/>
<circle cx="1894.69" cy="532.7" r="6.4" fill="#050505"/>
<circle cx="1879.88" cy="546.5" r="6.4" fill="#050505"/>
<circle cx="1909.16" cy="552.9" r="6.4" fill="#050505"/>
<circle cx="1879.88" cy="564.34" r="6.4" fill="#050505"/>
<circle cx="1943.83" cy="491.3" r="6.4" fill="#050505"/>
<circle cx="1973.44" cy="489.96" r="6.4" fill="#050505"/>
<circle cx="1973.44" cy="505.78" r="6.4" fill="#050505"/>
<circle cx="1943.83" cy="515.87" r="6.4" fill="#050505"/>
<circle cx="2022.92" cy="485.25" r="6.4" fill="#050505"/>
<circle cx="2022.92" cy="504.77" r="6.4" fill="#050505"/>
<circle cx="2008.11" cy="528.66" r="6.4" fill="#050505"/>
<circle cx="2037.73" cy="528.66" r="6.4" fill="#050505"/>
<text x="1648.5" y="788.16" class="tk" text-anchor="end">0</text>
<text x="1648.5" y="723.81" class="tk" text-anchor="end">10</text>
<text x="1648.5" y="659.46" class="tk" text-anchor="end">20</text>
<text x="1648.5" y="595.11" class="tk" text-anchor="end">30</text>
<text x="1648.5" y="530.76" class="tk" text-anchor="end">40</text>
<text x="1648.5" y="466.4" class="tk" text-anchor="end">50</text>
<text x="1701.83" y="817.8" class="tk" text-anchor="middle">0</text>
<text x="1766.28" y="817.8" class="tk" text-anchor="middle">7</text>
<text x="1830.23" y="817.8" class="tk" text-anchor="middle">10</text>
<text x="1894.52" y="817.8" class="tk" text-anchor="middle">13</text>
<text x="1958.47" y="817.8" class="tk" text-anchor="middle">16</text>
<text x="2022.92" y="817.8" class="tk" text-anchor="middle">19</text>
<text transform="translate(1858.4 848.2) scale(0.95 1)" class="xl" text-anchor="middle">Time (s)</text>
<text transform="translate(1733.46 452) scale(1.027 1)" font-size="25.3" class="ti">5.0V Mobile charger</text>
<text transform="translate(1754.67 589.1) scale(0.94 1)" class="pv" text-anchor="middle">&lt;0.0001</text>
<text transform="translate(1824.01 547.03) scale(0.94 1)" class="pv" text-anchor="middle">&lt;0.0001</text>
<text transform="translate(1895.19 524.82) scale(0.94 1)" class="pv" text-anchor="middle">&lt;0.0001</text>
<text transform="translate(1955.27 484.43) scale(0.94 1)" class="pv" text-anchor="middle">&lt;0.0001</text>
<text transform="translate(2025.78 468.61) scale(0.94 1)" class="pv" text-anchor="middle">&lt;0.0001</text>
<text transform="translate(1606.6 621.9) rotate(-90)" x="0" y="0" class="tk" text-anchor="middle">SEAP (u l<tspan font-size="17" dy="-10">-1</tspan><tspan dy="10">)</tspan></text>
<text x="1583.3" y="443.5" class="pl" font-size="29">h</text>
</g>
<g id="pi">
<rect x="113.5" y="1171.5" width="40" height="32" fill="#d6e9f0" stroke="#161616" stroke-width="1.05"/>
<rect x="177.5" y="1053.5" width="40" height="150" fill="#94c64b" stroke="#161616" stroke-width="1.05"/>
<rect x="241.5" y="1030.5" width="40" height="173" fill="#94c64b" stroke="#161616" stroke-width="1.05"/>
<rect x="305.5" y="1018.5" width="40" height="185" fill="#94c64b" stroke="#161616" stroke-width="1.05"/>
<rect x="369.5" y="1007.5" width="39" height="196" fill="#94c64b" stroke="#161616" stroke-width="1.05"/>
<rect x="433.5" y="997.5" width="39" height="206" fill="#94c64b" stroke="#161616" stroke-width="1.05"/>
<path d="M91.5 880.5V1203.5M79.7 1203.5H495.77" stroke="#2a2a2a" stroke-width="1.2" fill="none"/>
<path d="M79.7 1203.5H91M79.7 1122.5H91M79.7 1041.5H91M79.7 961.5H91M79.7 880.5H91M133.5 1203.08V1214.88M197.5 1203.08V1214.88M261.5 1203.08V1214.88M325.5 1203.08V1214.88M389.5 1203.08V1214.88M453.5 1203.08V1214.88" stroke="#2a2a2a" stroke-width="1.2" fill="none"/>
<path d="M133.5 1163.5V1173.5M122.45 1163.5H144.45M122.45 1173.5H144.45M197.5 1025.5V1079.5M186.4 1025.5H208.4M186.4 1079.5H208.4M261.5 1004.5V1054.5M250.35 1004.5H272.35M250.35 1054.5H272.35M325.5 985.5V1049.5M314.29 985.5H336.29M314.29 1049.5H336.29M389.5 977.5V1033.5M378.24 977.5H400.24M378.24 1033.5H400.24M453.5 955.5V1037.5M442.19 955.5H464.19M442.19 1037.5H464.19" stroke="#2a2a2a" stroke-width="1.3" fill="none"/>
<circle cx="118.47" cy="1161.68" r="6.4" fill="#050505"/>
<circle cx="133.62" cy="1167.07" r="6.4" fill="#050505"/>
<circle cx="148.43" cy="1171.44" r="6.4" fill="#050505"/>
<circle cx="118.47" cy="1174.47" r="6.4" fill="#050505"/>
<circle cx="198.24" cy="1015.61" r="6.4" fill="#050505"/>
<circle cx="182.76" cy="1054.99" r="6.4" fill="#050505"/>
<circle cx="212.38" cy="1060.04" r="6.4" fill="#050505"/>
<circle cx="198.24" cy="1079.22" r="6.4" fill="#050505"/>
<circle cx="261.18" cy="1001.81" r="6.4" fill="#050505"/>
<circle cx="246.71" cy="1025.71" r="6.4" fill="#050505"/>
<circle cx="275.99" cy="1029.07" r="6.4" fill="#050505"/>
<circle cx="261.18" cy="1063.4" r="6.4" fill="#050505"/>
<circle cx="325.13" cy="973.88" r="6.4" fill="#050505"/>
<circle cx="310.32" cy="1022.34" r="6.4" fill="#050505"/>
<circle cx="340.27" cy="1024.03" r="6.4" fill="#050505"/>
<circle cx="325.13" cy="1049.61" r="6.4" fill="#050505"/>
<circle cx="374.27" cy="988.01" r="6.4" fill="#050505"/>
<circle cx="404.56" cy="978.59" r="6.4" fill="#050505"/>
<circle cx="389.41" cy="1016.62" r="6.4" fill="#050505"/>
<circle cx="389.41" cy="1040.18" r="6.4" fill="#050505"/>
<circle cx="453.7" cy="947.29" r="6.4" fill="#050505"/>
<circle cx="453.7" cy="979.94" r="6.4" fill="#050505"/>
<circle cx="453.7" cy="1021.67" r="6.4" fill="#050505"/>
<circle cx="453.7" cy="1037.15" r="6.4" fill="#050505"/>
<text x="78.1" y="1209.28" class="tk" text-anchor="end">0</text>
<text x="78.1" y="1128.67" class="tk" text-anchor="end">20</text>
<text x="78.1" y="1048.06" class="tk" text-anchor="end">40</text>
<text x="78.1" y="967.46" class="tk" text-anchor="end">60</text>
<text x="78.1" y="886.85" class="tk" text-anchor="end">80</text>
<text x="133.45" y="1238.2" class="tk" text-anchor="middle">0</text>
<text x="197.4" y="1238.2" class="tk" text-anchor="middle">4</text>
<text x="261.35" y="1238.2" class="tk" text-anchor="middle">6</text>
<text x="325.29" y="1238.2" class="tk" text-anchor="middle">8</text>
<text x="389.24" y="1238.2" class="tk" text-anchor="middle">10</text>
<text x="453.19" y="1238.2" class="tk" text-anchor="middle">12</text>
<text transform="translate(286.8 1268.4) scale(0.95 1)" class="xl" text-anchor="middle">Time (s)</text>
<text transform="translate(207.84 894.9) scale(0.946 1)" font-size="30.4" class="ti">12.0V 1x23A</text>
<text transform="translate(181.58 1007.72) scale(0.94 1)" class="pv" text-anchor="middle">0.0001</text>
<text transform="translate(257.48 993.25) scale(0.94 1)" class="pv" text-anchor="middle">&lt;0.0001</text>
<text transform="translate(327.31 953.87) scale(0.94 1)" class="pv" text-anchor="middle">&lt;0.0001</text>
<text transform="translate(388.74 972.39) scale(0.94 1)" class="pv" text-anchor="middle">&lt;0.0001</text>
<text transform="translate(445.95 937.72) scale(0.94 1)" class="pv" text-anchor="middle">0.0002</text>
<text transform="translate(35.3 1050.8) rotate(-90)" x="0" y="0" class="tk" text-anchor="middle">SEAP (u l<tspan font-size="17" dy="-10">-1</tspan><tspan dy="10">)</tspan></text>
<text x="14.6" y="868.5" class="pl" font-size="29">i</text>
</g>
<g id="pj">
<rect x="629.5" y="1172.5" width="40" height="29" fill="#d6e9f0" stroke="#161616" stroke-width="1.05"/>
<rect x="693.5" y="1101.5" width="40" height="100" fill="#94c64b" stroke="#161616" stroke-width="1.05"/>
<rect x="758.5" y="1031.5" width="39" height="170" fill="#94c64b" stroke="#161616" stroke-width="1.05"/>
<rect x="822.5" y="1007.5" width="40" height="194" fill="#94c64b" stroke="#161616" stroke-width="1.05"/>
<rect x="886.5" y="1015.5" width="39" height="186" fill="#94c64b" stroke="#161616" stroke-width="1.05"/>
<rect x="950.5" y="1021.5" width="40" height="180" fill="#94c64b" stroke="#161616" stroke-width="1.05"/>
<path d="M607.5 880.5V1201.5M595.7 1201.5H1013.75" stroke="#2a2a2a" stroke-width="1.2" fill="none"/>
<path d="M595.7 1201.5H607M595.7 1121.5H607M595.7 1041.5H607M595.7 960.5H607M595.7 880.5H607M649.5 1201.73V1213.53M713.5 1201.73V1213.53M778.5 1201.73V1213.53M842.5 1201.73V1213.53M906.5 1201.73V1213.53M970.5 1201.73V1213.53" stroke="#2a2a2a" stroke-width="1.2" fill="none"/>
<path d="M649.5 1167.5V1175.5M638.41 1167.5H660.41M638.41 1175.5H660.41M713.5 1090.5V1111.5M702.7 1090.5H724.7M702.7 1111.5H724.7M778.5 1020.5V1038.5M767.15 1020.5H789.15M767.15 1038.5H789.15M842.5 985.5V1026.5M831.27 985.5H853.27M831.27 1026.5H853.27M906.5 993.5V1035.5M895.21 993.5H917.21M895.21 1035.5H917.21M970.5 985.5V1053.5M959.5 985.5H981.5M959.5 1053.5H981.5" stroke="#2a2a2a" stroke-width="1.3" fill="none"/>
<circle cx="644.53" cy="1164.38" r="6.4" fill="#050505"/>
<circle cx="654.96" cy="1170.43" r="6.4" fill="#050505"/>
<circle cx="665.06" cy="1168.41" r="6.4" fill="#050505"/>
<circle cx="634.77" cy="1174.47" r="6.4" fill="#050505"/>
<circle cx="713.86" cy="1085.62" r="6.4" fill="#050505"/>
<circle cx="713.86" cy="1102.45" r="6.4" fill="#050505"/>
<circle cx="729.01" cy="1104.47" r="6.4" fill="#050505"/>
<circle cx="699.06" cy="1110.52" r="6.4" fill="#050505"/>
<circle cx="762.67" cy="1025.37" r="6.4" fill="#050505"/>
<circle cx="793.97" cy="1018.98" r="6.4" fill="#050505"/>
<circle cx="793.97" cy="1033.45" r="6.4" fill="#050505"/>
<circle cx="762.67" cy="1038.83" r="6.4" fill="#050505"/>
<circle cx="842.43" cy="977.24" r="6.4" fill="#050505"/>
<circle cx="826.95" cy="1007.53" r="6.4" fill="#050505"/>
<circle cx="857.24" cy="1014.94" r="6.4" fill="#050505"/>
<circle cx="826.95" cy="1024.7" r="6.4" fill="#050505"/>
<circle cx="906.38" cy="984.98" r="6.4" fill="#050505"/>
<circle cx="891.24" cy="1014.27" r="6.4" fill="#050505"/>
<circle cx="921.19" cy="1024.7" r="6.4" fill="#050505"/>
<circle cx="891.24" cy="1033.45" r="6.4" fill="#050505"/>
<circle cx="970.67" cy="969.17" r="6.4" fill="#050505"/>
<circle cx="955.18" cy="1028.74" r="6.4" fill="#050505"/>
<circle cx="955.18" cy="1041.86" r="6.4" fill="#050505"/>
<circle cx="985.81" cy="1039.84" r="6.4" fill="#050505"/>
<text x="593.2" y="1208.03" class="tk" text-anchor="end">0</text>
<text x="593.2" y="1127.68" class="tk" text-anchor="end">20</text>
<text x="593.2" y="1047.32" class="tk" text-anchor="end">40</text>
<text x="593.2" y="966.97" class="tk" text-anchor="end">60</text>
<text x="593.2" y="886.61" class="tk" text-anchor="end">80</text>
<text x="649.41" y="1238.2" class="tk" text-anchor="middle">0</text>
<text x="713.7" y="1238.2" class="tk" text-anchor="middle">1</text>
<text x="778.15" y="1238.2" class="tk" text-anchor="middle">3</text>
<text x="842.27" y="1238.2" class="tk" text-anchor="middle">5</text>
<text x="906.21" y="1238.2" class="tk" text-anchor="middle">7</text>
<text x="970.5" y="1238.2" class="tk" text-anchor="middle">9</text>
<text transform="translate(802.7 1268.4) scale(0.95 1)" class="xl" text-anchor="middle">Time (s)</text>
<text transform="translate(723.07 889.7) scale(0.955 1)" font-size="27.0" class="ti">18.0V 2xBlock</text>
<text transform="translate(712.52 1081.1) scale(0.94 1)" class="pv" text-anchor="middle">&lt;0.0001</text>
<text transform="translate(774.28 1015.13) scale(0.94 1)" class="pv" text-anchor="middle">&lt;0.0001</text>
<text transform="translate(839.4 963.97) scale(0.94 1)" class="pv" text-anchor="middle">&lt;0.0001</text>
<text transform="translate(901.84 980.8) scale(0.94 1)" class="pv" text-anchor="middle">&lt;0.0001</text>
<text transform="translate(966.46 958.92) scale(0.94 1)" class="pv" text-anchor="middle">0.0001</text>
<text transform="translate(552 1047.4) rotate(-90)" x="0" y="0" class="tk" text-anchor="middle">SEAP (u l<tspan font-size="17" dy="-10">-1</tspan><tspan dy="10">)</tspan></text>
<text x="529.6" y="867.8" class="pl" font-size="28.5">j</text>
</g>
<g id="pk">
<rect x="1155.5" y="1162.5" width="39" height="42" fill="#d6e9f0" stroke="#161616" stroke-width="1.05"/>
<rect x="1219.5" y="1127.5" width="40" height="77" fill="#94c64b" stroke="#161616" stroke-width="1.05"/>
<rect x="1283.5" y="1071.5" width="40" height="133" fill="#94c64b" stroke="#161616" stroke-width="1.05"/>
<rect x="1348.5" y="995.5" width="39" height="209" fill="#94c64b" stroke="#161616" stroke-width="1.05"/>
<rect x="1412.5" y="975.5" width="39" height="229" fill="#94c64b" stroke="#161616" stroke-width="1.05"/>
<rect x="1476.5" y="956.5" width="40" height="248" fill="#94c64b" stroke="#161616" stroke-width="1.05"/>
<path d="M1132.5 881.5V1204.5M1121.1 1204.5H1539.13" stroke="#2a2a2a" stroke-width="1.2" fill="none"/>
<path d="M1121.1 1204.5H1132.4M1121.1 1096.5H1132.4M1121.1 989.5H1132.4M1121.1 881.5H1132.4M1174.5 1204.43V1216.23M1239.5 1204.43V1216.23M1303.5 1204.43V1216.23M1367.5 1204.43V1216.23M1432.5 1204.43V1216.23M1496.5 1204.43V1216.23" stroke="#2a2a2a" stroke-width="1.2" fill="none"/>
<path d="M1174.5 1152.5V1170.5M1163.96 1152.5H1185.96M1163.96 1170.5H1185.96M1239.5 1117.5V1135.5M1228.42 1117.5H1250.42M1228.42 1135.5H1250.42M1303.5 1054.5V1084.5M1292.53 1054.5H1314.53M1292.53 1084.5H1314.53M1367.5 987.5V1001.5M1356.82 987.5H1378.82M1356.82 1001.5H1378.82M1432.5 957.5V990.5M1421.1 957.5H1443.1M1421.1 990.5H1443.1M1496.5 946.5V964.5M1485.39 946.5H1507.39M1485.39 964.5H1507.39" stroke="#2a2a2a" stroke-width="1.3" fill="none"/>
<circle cx="1159.82" cy="1155.29" r="6.4" fill="#050505"/>
<circle cx="1190.11" cy="1153.27" r="6.4" fill="#050505"/>
<circle cx="1159.82" cy="1169.42" r="6.4" fill="#050505"/>
<circle cx="1190.11" cy="1168.75" r="6.4" fill="#050505"/>
<circle cx="1224.44" cy="1120.96" r="6.4" fill="#050505"/>
<circle cx="1254.39" cy="1117.93" r="6.4" fill="#050505"/>
<circle cx="1254.39" cy="1130.72" r="6.4" fill="#050505"/>
<circle cx="1224.44" cy="1136.1" r="6.4" fill="#050505"/>
<circle cx="1304.54" cy="1053.31" r="6.4" fill="#050505"/>
<circle cx="1289.06" cy="1066.43" r="6.4" fill="#050505"/>
<circle cx="1319.02" cy="1070.14" r="6.4" fill="#050505"/>
<circle cx="1304.54" cy="1089.66" r="6.4" fill="#050505"/>
<circle cx="1353.01" cy="987" r="6.4" fill="#050505"/>
<circle cx="1368.49" cy="992.05" r="6.4" fill="#050505"/>
<circle cx="1383.3" cy="996.09" r="6.4" fill="#050505"/>
<circle cx="1353.01" cy="1003.5" r="6.4" fill="#050505"/>
<circle cx="1417.63" cy="963.44" r="6.4" fill="#050505"/>
<circle cx="1447.59" cy="959.07" r="6.4" fill="#050505"/>
<circle cx="1432.44" cy="980.27" r="6.4" fill="#050505"/>
<circle cx="1432.44" cy="995.42" r="6.4" fill="#050505"/>
<circle cx="1496.72" cy="943.25" r="6.4" fill="#050505"/>
<circle cx="1496.72" cy="956.04" r="6.4" fill="#050505"/>
<circle cx="1511.87" cy="958.39" r="6.4" fill="#050505"/>
<circle cx="1481.58" cy="965.13" r="6.4" fill="#050505"/>
<text x="1121.2" y="1210.93" class="tk" text-anchor="end">0</text>
<text x="1121.2" y="1103.45" class="tk" text-anchor="end">20</text>
<text x="1121.2" y="995.97" class="tk" text-anchor="end">40</text>
<text x="1121.2" y="888.49" class="tk" text-anchor="end">60</text>
<text x="1174.96" y="1238.2" class="tk" text-anchor="middle">0</text>
<text x="1239.42" y="1238.2" class="tk" text-anchor="middle">1</text>
<text x="1303.53" y="1238.2" class="tk" text-anchor="middle">3</text>
<text x="1367.82" y="1238.2" class="tk" text-anchor="middle">5</text>
<text x="1432.1" y="1238.2" class="tk" text-anchor="middle">7</text>
<text x="1496.39" y="1238.2" class="tk" text-anchor="middle">9</text>
<text transform="translate(1328.8 1268.4) scale(0.95 1)" class="xl" text-anchor="middle">Time (s)</text>
<text transform="translate(1268.2 887.9) scale(1.001 1)" font-size="26.0" class="ti">24.0V 2x23A</text>
<text transform="translate(1238.74 1108.7) scale(0.94 1)" class="pv" text-anchor="middle">0.0011</text>
<text transform="translate(1309.59 1044.75) scale(0.94 1)" class="pv" text-anchor="middle">&lt;0.0001</text>
<text transform="translate(1373.71 976.76) scale(0.94 1)" class="pv" text-anchor="middle">&lt;0.0001</text>
<text transform="translate(1429.41 953.2) scale(0.94 1)" class="pv" text-anchor="middle">&lt;0.0001</text>
<text transform="translate(1497.23 930.31) scale(0.94 1)" class="pv" text-anchor="middle">&lt;0.0001</text>
<text transform="translate(1079.7 1050.8) rotate(-90)" x="0" y="0" class="tk" text-anchor="middle">SEAP (u l<tspan font-size="17" dy="-10">-1</tspan><tspan dy="10">)</tspan></text>
<text x="1054.3" y="868.6" class="pl" font-size="29.5">k</text>
</g>
<g id="pl">
<rect x="1682.5" y="1161.5" width="39" height="43" fill="#d6e9f0" stroke="#161616" stroke-width="1.05"/>
<rect x="1746.5" y="1058.5" width="40" height="146" fill="#94c64b" stroke="#161616" stroke-width="1.05"/>
<rect x="1810.5" y="1046.5" width="40" height="158" fill="#94c64b" stroke="#161616" stroke-width="1.05"/>
<rect x="1874.5" y="997.5" width="40" height="207" fill="#94c64b" stroke="#161616" stroke-width="1.05"/>
<rect x="1938.5" y="981.5" width="40" height="223" fill="#94c64b" stroke="#161616" stroke-width="1.05"/>
<rect x="2002.5" y="971.5" width="40" height="233" fill="#94c64b" stroke="#161616" stroke-width="1.05"/>
<path d="M1659.5 883.5V1204.5M1648.3 1204.5H2066" stroke="#2a2a2a" stroke-width="1.2" fill="none"/>
<path d="M1648.3 1204.5H1659.6M1648.3 1097.5H1659.6M1648.3 990.5H1659.6M1648.3 883.5H1659.6M1702.5 1204.43V1216.23M1766.5 1204.43V1216.23M1830.5 1204.43V1216.23M1894.5 1204.43V1216.23M1958.5 1204.43V1216.23M2022.5 1204.43V1216.23" stroke="#2a2a2a" stroke-width="1.2" fill="none"/>
<path d="M1702.5 1153.5V1166.5M1691.17 1153.5H1713.17M1691.17 1166.5H1713.17M1766.5 1053.5V1060.5M1755.45 1053.5H1777.45M1755.45 1060.5H1777.45M1830.5 1033.5V1057.5M1819.4 1033.5H1841.4M1819.4 1057.5H1841.4M1894.5 975.5V1016.5M1883.35 975.5H1905.35M1883.35 1016.5H1905.35M1958.5 973.5V987.5M1947.47 973.5H1969.47M1947.47 987.5H1969.47M2022.5 949.5V991.5M2011.58 949.5H2033.58M2011.58 991.5H2033.58" stroke="#2a2a2a" stroke-width="1.3" fill="none"/>
<circle cx="1687.36" cy="1154.61" r="6.4" fill="#050505"/>
<circle cx="1702.17" cy="1154.28" r="6.4" fill="#050505"/>
<circle cx="1716.98" cy="1162.02" r="6.4" fill="#050505"/>
<circle cx="1687.36" cy="1168.75" r="6.4" fill="#050505"/>
<circle cx="1761.4" cy="1052.63" r="6.4" fill="#050505"/>
<circle cx="1781.6" cy="1054.65" r="6.4" fill="#050505"/>
<circle cx="1751.31" cy="1060.71" r="6.4" fill="#050505"/>
<circle cx="1771.5" cy="1060.04" r="6.4" fill="#050505"/>
<circle cx="1830.4" cy="1030.08" r="6.4" fill="#050505"/>
<circle cx="1815.26" cy="1044.56" r="6.4" fill="#050505"/>
<circle cx="1845.21" cy="1046.58" r="6.4" fill="#050505"/>
<circle cx="1830.4" cy="1059.37" r="6.4" fill="#050505"/>
<circle cx="1894.69" cy="967.82" r="6.4" fill="#050505"/>
<circle cx="1894.69" cy="994.07" r="6.4" fill="#050505"/>
<circle cx="1879.88" cy="1012.58" r="6.4" fill="#050505"/>
<circle cx="1909.5" cy="1009.55" r="6.4" fill="#050505"/>
<circle cx="1973.44" cy="969.84" r="6.4" fill="#050505"/>
<circle cx="1958.3" cy="979.26" r="6.4" fill="#050505"/>
<circle cx="1943.83" cy="986.67" r="6.4" fill="#050505"/>
<circle cx="1973.44" cy="985.99" r="6.4" fill="#050505"/>
<circle cx="2037.73" cy="951.33" r="6.4" fill="#050505"/>
<circle cx="2007.77" cy="957.72" r="6.4" fill="#050505"/>
<circle cx="2022.58" cy="976.57" r="6.4" fill="#050505"/>
<circle cx="2022.58" cy="996.76" r="6.4" fill="#050505"/>
<text x="1648.8" y="1211.13" class="tk" text-anchor="end">0</text>
<text x="1648.8" y="1103.99" class="tk" text-anchor="end">20</text>
<text x="1648.8" y="996.84" class="tk" text-anchor="end">40</text>
<text x="1648.8" y="889.7" class="tk" text-anchor="end">60</text>
<text x="1702.17" y="1238.2" class="tk" text-anchor="middle">0</text>
<text x="1766.45" y="1238.2" class="tk" text-anchor="middle">1</text>
<text x="1830.4" y="1238.2" class="tk" text-anchor="middle">3</text>
<text x="1894.35" y="1238.2" class="tk" text-anchor="middle">5</text>
<text x="1958.47" y="1238.2" class="tk" text-anchor="middle">7</text>
<text x="2022.58" y="1238.2" class="tk" text-anchor="middle">9</text>
<text transform="translate(1855.7 1268.4) scale(0.95 1)" class="xl" text-anchor="middle">Time (s)</text>
<text transform="translate(1782.06 895.2) scale(1.002 1)" font-size="25.9" class="ti">30.0V 2xExell</text>
<text transform="translate(1760.73 1045.76) scale(0.94 1)" class="pv" text-anchor="middle">&lt;0.0001</text>
<text transform="translate(1829.22 1020.18) scale(0.94 1)" class="pv" text-anchor="middle">&lt;0.0001</text>
<text transform="translate(1886.44 962.96) scale(0.94 1)" class="pv" text-anchor="middle">&lt;0.0001</text>
<text transform="translate(1963.85 963.97) scale(0.94 1)" class="pv" text-anchor="middle">&lt;0.0001</text>
<text transform="translate(2014.17 940.41) scale(0.94 1)" class="pv" text-anchor="middle">&lt;0.0001</text>
<text transform="translate(1606.6 1054.2) rotate(-90)" x="0" y="0" class="tk" text-anchor="middle">SEAP (u l<tspan font-size="17" dy="-10">-1</tspan><tspan dy="10">)</tspan></text>
<text x="1586.1" y="868.5" class="pl" font-size="29">l</text>
</g>
</svg>
</body></html>
